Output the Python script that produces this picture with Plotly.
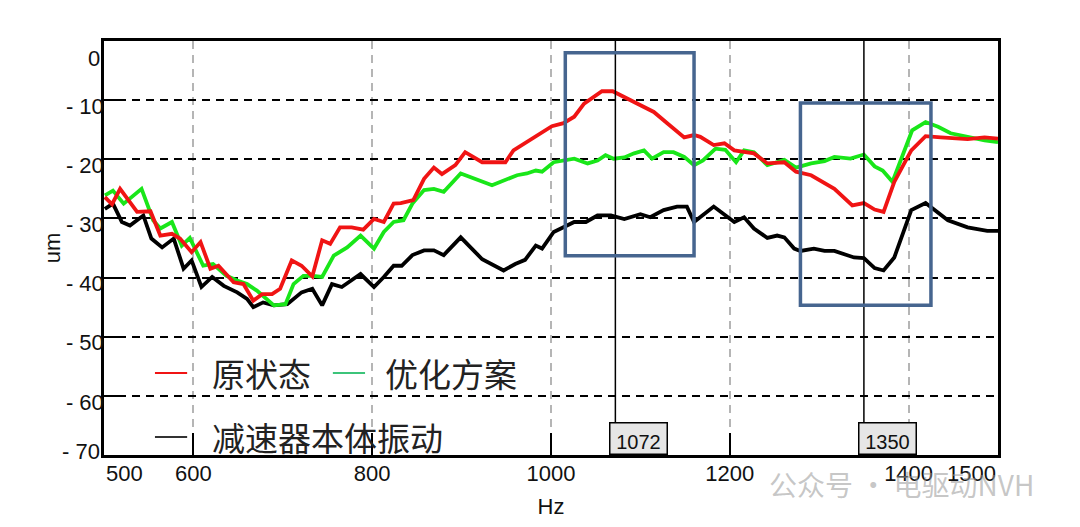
import plotly.graph_objects as go

# ---------------- data ----------------
red_x = [501, 509, 518, 537, 552, 563, 576, 585, 598, 608, 619, 628, 645, 656, 667, 677, 688, 697,
         710, 721, 733, 744, 753, 764, 777, 790, 802, 813, 824, 832, 846, 858, 869, 878, 893, 904,
         923, 949, 958, 971, 985, 1001, 1014, 1026, 1037, 1048, 1057, 1069, 1078, 1093, 1115, 1130,
         1149, 1160, 1167, 1182, 1194, 1205, 1227, 1242, 1261, 1274, 1291, 1317, 1337, 1350, 1362,
         1372, 1384, 1403, 1419, 1436, 1466, 1485, 1500]
red_y = [-26.4, -27.6, -25.0, -28.9, -28.8, -32.9, -32.6, -33.4, -35.7, -34.0, -38.5, -38.0, -40.8,
         -41.1, -43.9, -42.8, -42.8, -41.9, -37.1, -38.0, -39.8, -33.7, -34.3, -31.5, -31.5, -31.9,
         -30.1, -30.6, -27.5, -27.4, -26.9, -23.3, -21.4, -22.5, -21.0, -18.8, -20.5, -20.5, -18.5,
         -17.3, -15.9, -14.4, -13.9, -12.8, -10.6, -9.4, -8.5, -8.5, -9.2, -10.3, -12.0, -13.9,
         -16.3, -15.9, -16.2, -17.6, -17.3, -18.5, -19.0, -20.7, -20.5, -22.1, -22.7, -25.0, -27.8,
         -27.4, -28.5, -28.9, -23.8, -18.5, -16.1, -16.3, -16.6, -16.3, -16.5]

green_x = [501, 510, 522, 542, 555, 563, 576, 587, 596, 611, 622, 637, 649, 660, 671, 690, 703, 712,
           723, 734, 744, 757, 772, 787, 802, 813, 824, 835, 845, 858, 869, 880, 899, 914, 934, 962,
           973, 983, 990, 1003, 1026, 1041, 1052, 1061, 1070, 1082, 1093, 1104, 1113, 1126, 1137,
           1149, 1160, 1170, 1184, 1195, 1207, 1216, 1227, 1242, 1261, 1274, 1291, 1306, 1317, 1335,
           1350, 1362, 1371, 1382, 1391, 1404, 1419, 1433, 1447, 1466, 1485, 1500]
green_y = [-26.1, -25.3, -27.5, -25.0, -30.3, -31.7, -30.6, -34.6, -33.3, -38.0, -37.7, -39.7, -40.5,
           -41.1, -42.2, -44.7, -44.5, -41.1, -39.7, -39.7, -39.9, -36.3, -34.9, -32.9, -35.1, -32.3,
           -30.6, -30.3, -27.5, -25.2, -25.0, -25.5, -22.4, -23.3, -24.4, -22.7, -22.4, -21.9, -22.1,
           -20.5, -19.9, -20.7, -20.2, -19.3, -19.9, -19.7, -19.0, -18.5, -19.9, -18.8, -18.8, -19.6,
           -21.0, -20.2, -18.2, -18.4, -20.5, -18.5, -18.8, -21.0, -20.1, -21.4, -20.7, -20.3, -19.6,
           -19.9, -19.2, -21.2, -21.9, -23.8, -20.2, -15.1, -13.7, -14.5, -15.6, -16.2, -16.8, -17.1]

black_x = [501, 510, 520, 529, 544, 553, 565, 578, 589, 598, 609, 621, 634, 649, 660, 667, 678, 690,
           705, 712, 721, 733, 744, 755, 766, 787, 802, 813, 824, 833, 845, 858, 869, 880, 899, 923,
           947, 960, 971, 983, 990, 1003, 1026, 1039, 1052, 1067, 1082, 1100, 1111, 1126, 1141, 1152,
           1160, 1182, 1194, 1205, 1216, 1227, 1242, 1253, 1261, 1272, 1279, 1294, 1306, 1317, 1339,
           1350, 1362, 1372, 1384, 1403, 1419, 1429, 1444, 1466, 1488, 1500]
black_y = [-28.4, -27.5, -30.6, -31.2, -29.5, -33.4, -34.9, -33.4, -38.5, -37.1, -41.6, -39.9, -41.4,
           -42.5, -43.6, -45.0, -44.2, -44.7, -44.5, -43.6, -42.5, -41.9, -44.7, -41.1, -41.6, -39.4,
           -41.6, -39.9, -38.0, -38.0, -36.2, -35.4, -35.4, -36.2, -33.2, -36.9, -38.8, -37.7, -37.0,
           -34.6, -35.1, -32.3, -30.6, -30.6, -29.5, -29.5, -30.1, -29.3, -29.8, -28.6, -28.0, -28.0,
           -30.6, -28.0, -29.3, -30.6, -29.8, -31.7, -33.3, -32.9, -33.2, -35.1, -35.5, -35.1, -35.5,
           -35.5, -36.6, -36.7, -38.4, -38.8, -36.6, -28.6, -27.4, -28.6, -30.3, -31.5, -32.1, -32.1]

series_names = ["原状态", "优化方案", "减速器本体振动"]

cursor_x = [1072, 1350]
cursor_labels = ["1072", "1350"]

box1_x = [1016, 1160]
box1_y = [-36.3, -2.0]
box2_x = [1279, 1425]
box2_y = [-44.7, -10.5]

y_tickvals = [-10, -20, -30, -40, -50, -60]
y_ticktext = ["- 10", "- 20", "- 30", "- 40", "- 50", "- 60"]
y_edge_vals = [0, -70]
y_edge_text = ["0", "- 70"]
x_tickvals = [600, 800, 1000, 1200, 1400]
x_ticktext = ["600", "800", "1000", "1200", "1400"]
x_edge_vals = [500, 1500]
x_edge_text = ["500", "1500"]

# ---------------- figure ----------------
FONT = "Liberation Sans, Arial, sans-serif"
CJK = "Noto Sans CJK SC, sans-serif"
RED = "#f01414"
GREEN = "#19e619"
BLUE = "#46658f"
TXT = "#111111"
TS = 22

fig = go.Figure()
fig.add_trace(go.Scatter(x=black_x, y=black_y, mode="lines", name=series_names[2],
                         line=dict(color="#000000", width=3.8), showlegend=False))
fig.add_trace(go.Scatter(x=green_x, y=green_y, mode="lines", name=series_names[1],
                         line=dict(color=GREEN, width=3.8), showlegend=False))
fig.add_trace(go.Scatter(x=red_x, y=red_y, mode="lines", name=series_names[0],
                         line=dict(color=RED, width=3.8), showlegend=False))

# cursor triangles above the plot
fig.add_trace(go.Scatter(x=cursor_x, y=[1.2] * len(cursor_x), mode="markers",
                         marker=dict(symbol="triangle-down", size=14, color="black"),
                         cliponaxis=False, showlegend=False, hoverinfo="skip"))

shapes = []
for cx in cursor_x:
    shapes.append(dict(type="line", xref="x", yref="paper", x0=cx, x1=cx, y0=0, y1=1,
                       line=dict(color="black", width=1.5), layer="above"))
for bx, by in [(box1_x, box1_y), (box2_x, box2_y)]:
    shapes.append(dict(type="rect", xref="x", yref="y", x0=bx[0], x1=bx[1], y0=by[0], y1=by[1],
                       line=dict(color=BLUE, width=3.5), fillcolor="rgba(0,0,0,0)", layer="above"))

# legend drawn as line samples + text
leg_rows = [(0.198, 0.057, 0.093, RED, 0.1186, series_names[0]),
            (0.198, 0.256, 0.292, "#3cc47a", 0.312, series_names[1]),
            (0.0435, 0.057, 0.093, "#333333", 0.1186, series_names[2])]
annotations = []
for yy, lx0, lx1, col, tx, name in leg_rows:
    shapes.append(dict(type="line", xref="paper", yref="paper", x0=lx0, x1=lx1, y0=yy, y1=yy,
                       line=dict(color=col, width=2)))
    annotations.append(dict(xref="paper", yref="paper", x=tx, y=yy, text=name, showarrow=False,
                            xanchor="left", yanchor="middle",
                            font=dict(family=CJK, size=33, color="#222222")))

for cx, lab in zip(cursor_x, cursor_labels):
    annotations.append(dict(xref="x", yref="paper", x=cx, y=0, text=lab, showarrow=False,
                            xanchor="left", yanchor="bottom", xshift=-6,
                            width=54, height=28, bgcolor="#e6e6e6", bordercolor="black",
                            borderwidth=1.5, borderpad=1, valign="bottom",
                            font=dict(family=FONT, size=20, color=TXT)))

for xv, txt, anc in zip(x_edge_vals, x_edge_text, ["left", "right"]):
    annotations.append(dict(xref="x", yref="paper", x=xv, y=0, text=txt, showarrow=False,
                            xanchor=anc, yanchor="top", yshift=-4,
                            font=dict(family=FONT, size=TS, color=TXT)))

for yv, txt, ys in zip(y_edge_vals, y_edge_text, [-17, 4]):
    annotations.append(dict(xref="paper", yref="y", x=0, y=yv, text=txt, showarrow=False,
                            xanchor="right", yanchor="middle", xshift=-2, yshift=ys,
                            font=dict(family=FONT, size=TS, color=TXT)))

# watermark
annotations.append(dict(xref="paper", yref="paper", x=0.742, y=-0.07, text="公众号 · 电驱动NVH",
                        showarrow=False, xanchor="left", yanchor="middle",
                        font=dict(family=CJK, size=28, color="rgba(150,150,150,0.55)")))

# page body has an 8px margin: compensate so plot area lands at x 104-998, y 41-455
fig.update_layout(
    width=1080, height=527,
    margin=dict(l=96, r=90, t=33, b=80),
    paper_bgcolor="white", plot_bgcolor="white",
    shapes=shapes, annotations=annotations,
    font=dict(family=FONT, size=TS, color=TXT),
)
fig.update_xaxes(range=[500, 1500], tickvals=x_tickvals, ticktext=x_ticktext,
                 ticks="inside", ticklen=22, tickwidth=2, tickcolor="black",
                 showline=True, linecolor="black", linewidth=2.5, mirror=True,
                 showgrid=True, gridcolor="#b5b5b5", gridwidth=1.5, griddash="8px,6px",
                 zeroline=False, ticklabelstandoff=-3,
                 tickfont=dict(family=FONT, size=TS, color=TXT),
                 title=dict(text="Hz", standoff=14, font=dict(family=FONT, size=TS, color=TXT)))
fig.update_yaxes(range=[-70, 0], tickvals=y_tickvals, ticktext=y_ticktext,
                 ticks="inside", ticklen=20, tickwidth=2, tickcolor="black",
                 showline=True, linecolor="black", linewidth=2.5, mirror=True,
                 showgrid=True, gridcolor="black", gridwidth=1.5, griddash="8px,6px",
                 zeroline=False, ticklabelshift=6, ticklabelstandoff=-7,
                 tickfont=dict(family=FONT, size=TS, color=TXT),
                 title=dict(text="um", standoff=0, font=dict(family=FONT, size=TS, color=TXT)))

fig.write_html("out.html")
